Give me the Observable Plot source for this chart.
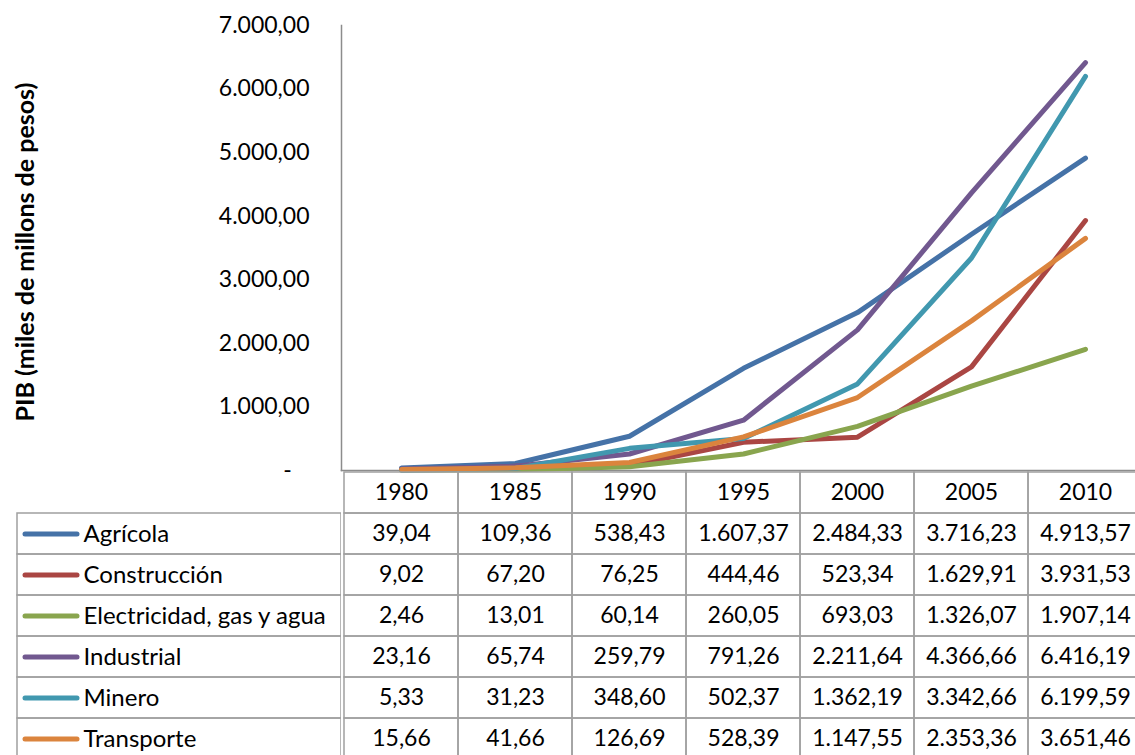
<!DOCTYPE html>
<html>
<head>
<meta charset="utf-8">
<script src="https://cdn.jsdelivr.net/npm/d3@7"></script>
<script src="https://cdn.jsdelivr.net/npm/@observablehq/plot@0.6"></script>
<style>
  html, body { margin: 0; padding: 0; background: #fff; }
  #wrap { position: relative; width: 1135px; height: 755px; overflow: hidden; background: #fff; }
  #wrap svg { position: absolute; left: 0; top: 0; }
</style>
</head>
<body>
<div id="wrap"></div>
<script>
const years = [1980, 1985, 1990, 1995, 2000, 2005, 2010];
const series = ["Agrícola", "Construcción", "Electricidad, gas y agua", "Industrial", "Minero", "Transporte"];
const agricola     = [39.04, 109.36, 538.43, 1607.37, 2484.33, 3716.23, 4913.57];
const construccion = [9.02, 67.20, 76.25, 444.46, 523.34, 1629.91, 3931.53];
const electricidad = [2.46, 13.01, 60.14, 260.05, 693.03, 1326.07, 1907.14];
const industrial   = [23.16, 65.74, 259.79, 791.26, 2211.64, 4366.66, 6416.19];
const minero       = [5.33, 31.23, 348.60, 502.37, 1362.19, 3342.66, 6199.59];
const transporte   = [15.66, 41.66, 126.69, 528.39, 1147.55, 2353.36, 3651.46];
const colors = ["#4572A7", "#AA4643", "#89A54E", "#71588F", "#4198AF", "#DB843D"];
const yTicks = [0, 1000, 2000, 3000, 4000, 5000, 6000, 7000];
const yTitle = "PIB (miles de millons de pesos)";

const valuesBySeries = [agricola, construccion, electricidad, industrial, minero, transporte];
const longData = [];
series.forEach((s, i) => years.forEach((y, j) => longData.push({series: s, year: y, value: valuesBySeries[i][j]})));

const es = d3.formatLocale({decimal: ",", thousands: ".", grouping: [3], currency: ["$", ""]});
const fmt = es.format(",.2f");

const FONT = "Lato";
const FS = 23;
const GRID = "#a0a0a0";
const wrap = document.getElementById("wrap");

// Chart
const chart = Plot.plot({
  width: 1135, height: 755,
  marginLeft: 341, marginRight: 0, marginTop: 25, marginBottom: 285,
  style: {background: "transparent", fontFamily: FONT, fontSize: FS + "px", color: "#000", overflow: "visible"},
  x: {type: "point", domain: years, range: [341, 1144], padding: 0.5, axis: null},
  y: {domain: [0, 7000], axis: null},
  color: {domain: series, range: colors},
  marks: [
    Plot.frame({anchor: "left", stroke: "#8c8c8c", strokeWidth: 1.5}),
    Plot.frame({anchor: "bottom", stroke: "#8c8c8c", strokeWidth: 1.5}),
    Plot.axisY({ticks: yTicks, tickSize: 0, tickPadding: 32, label: null, fontSize: FS,
      tickFormat: d => d === 0 ? "-\u00a0\u00a0\u00a0" : fmt(d)}),
    Plot.text([yTitle], {frameAnchor: "left", textAnchor: "middle", rotate: -90, dx: -316, dy: 4, fontWeight: "bold", fontSize: 25, text: d => d}),
    Plot.line(longData, {x: "year", y: "value", z: "series", stroke: "series", strokeWidth: 5, strokeLinecap: "round", strokeLinejoin: "round"})
  ]
});
wrap.appendChild(chart);

// Data table
const rows = ["", ...series];
const cells = [];
years.forEach((y, j) => {
  cells.push({row: "", year: y, label: String(y)});
  series.forEach((s, i) => cells.push({row: s, year: y, label: fmt(valuesBySeries[i][j])}));
});

const table = Plot.plot({
  width: 1135, height: 755,
  marginLeft: 341, marginRight: 0, marginTop: 470, marginBottom: 0,
  style: {background: "transparent", fontFamily: FONT, fontSize: FS + "px", color: "#000"},
  x: {type: "band", domain: years, range: [341, 1144], padding: 0, axis: null},
  y: {type: "band", domain: rows, range: [470.5, 761], padding: 0, axis: null},
  marks: [
    Plot.cell(cells, {x: "year", y: "row", fill: "none", stroke: GRID, strokeWidth: 1.5}),
    Plot.text(cells, {x: "year", y: "row", text: "label", fontSize: FS})
  ]
});
wrap.appendChild(table);

// Legend column of the table
const legend = Plot.plot({
  width: 341, height: 755,
  marginLeft: 17, marginRight: 0, marginTop: 470, marginBottom: 0,
  style: {background: "transparent", fontFamily: FONT, fontSize: FS + "px", color: "#000"},
  y: {type: "band", domain: rows, range: [470.5, 761], padding: 0, axis: null},
  color: {domain: series, range: colors},
  marks: [
    Plot.cell(series, {y: d => d, fill: "none", stroke: GRID, strokeWidth: 1.5}),
    Plot.tickY(series, {y: d => d, stroke: d => d, strokeWidth: 5, strokeLinecap: "round", insetLeft: 8, insetRight: 264}),
    Plot.text(series, {y: d => d, text: d => d, frameAnchor: "left", textAnchor: "start", dx: 66, fontSize: 24})
  ]
});
wrap.appendChild(legend);
</script>
</body>
</html>
